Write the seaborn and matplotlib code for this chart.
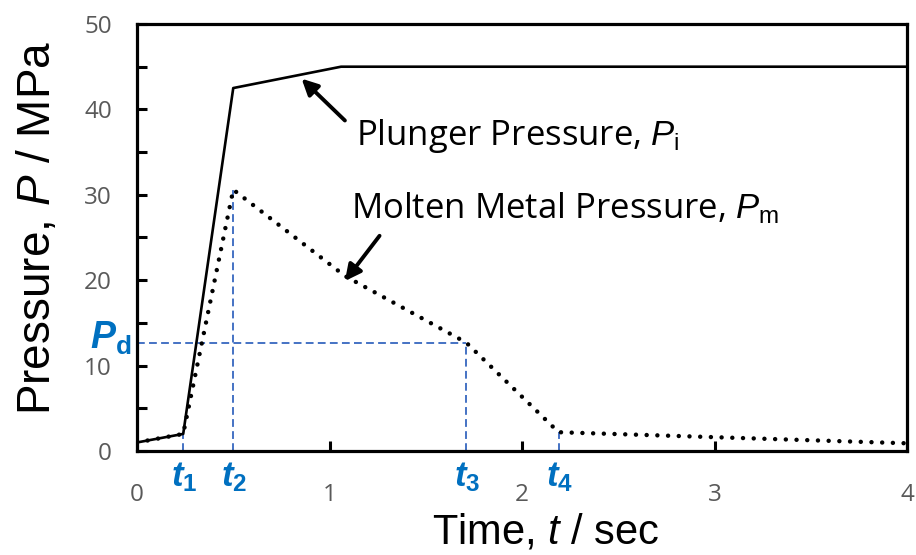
import numpy as np
import pandas as pd
import matplotlib
matplotlib.use("Agg")
import matplotlib.pyplot as plt
from matplotlib.ticker import MultipleLocator, FixedLocator
import seaborn as sns

# Pressure histories during squeeze casting
plunger_t = [0.0, 0.24, 0.50, 1.06, 4.0]
plunger_p = [1.0, 2.0, 42.5, 45.0, 45.0]

metal_t = [0.0, 0.24, 0.50, 1.08, 1.71, 2.19, 4.0]
metal_p = [1.0, 2.0, 30.6, 20.5, 12.7, 2.2, 0.9]

# Characteristic instants and pressure
t_marks = [0.24, 0.50, 1.71, 2.19]
t_mark_p = [2.0, 30.6, 12.7, 2.2]
t_names = ["1", "2", "3", "4"]
p_d = 12.7

x_ticks = [0, 1, 2, 3, 4]
y_ticks = [0, 10, 20, 30, 40, 50]

sns.set_theme(style="white")
plt.rcParams.update({
    "mathtext.fontset": "custom",
    "mathtext.rm": "Liberation Sans",
    "mathtext.it": "Liberation Sans:italic",
    "mathtext.bf": "Liberation Sans:bold",
    "mathtext.bfit": "Liberation Sans:italic:bold",
})
plt.rcParams["font.family"] = ["Open Sans", "DejaVu Sans"]

fig = plt.figure(figsize=(9.16, 5.55), dpi=100)
ax = fig.add_axes([137 / 916, 1 - 451 / 555, 770 / 916, 427 / 555])

blue = "#0070C0"
dash_blue = "#4472C4"

df_pl = pd.DataFrame({"t": plunger_t, "p": plunger_p})
df_mm = pd.DataFrame({"t": metal_t, "p": metal_p})

sns.lineplot(data=df_pl, x="t", y="p", ax=ax, color="black", lw=1.9,
             sort=False, estimator=None, zorder=4)
sns.lineplot(data=df_mm, x="t", y="p", ax=ax, color="black", lw=3.2,
             linestyle=(0, (0.01, 2.4)), dash_capstyle="round",
             sort=False, estimator=None, zorder=5)

# Guide lines to the characteristic instants
guide = dict(color=dash_blue, lw=1.4, ls=(0, (4, 2.2)), zorder=2)
for tm, pm in zip(t_marks, t_mark_p):
    ax.plot([tm, tm], [0, pm], **guide)
ax.plot([0, t_marks[2]], [p_d, p_d], **guide)

ax.set_xlim(0, 4)
ax.set_ylim(0, 50)

ax.xaxis.set_major_locator(FixedLocator(x_ticks))
ax.set_xticklabels([str(v) for v in x_ticks])
ax.yaxis.set_major_locator(FixedLocator(y_ticks))
ax.set_yticklabels([str(v) for v in y_ticks])
ax.yaxis.set_minor_locator(MultipleLocator(5))

ax.tick_params(axis="both", which="both", direction="in", length=7, width=2.2,
               color="black", labelcolor="#595959", labelsize=17.5)
ax.tick_params(axis="y", which="both", left=True, right=False, pad=18)
ax.tick_params(axis="x", which="both", bottom=True, top=False, pad=23)
ax.tick_params(axis="x", which="minor", bottom=False)

for s in ax.spines.values():
    s.set_visible(True)
    s.set_color("black")
    s.set_linewidth(2.3)

ax.set_xlabel(r"Time, $\mathit{t}$ / sec", fontsize=30, family="Liberation Sans",
              color="black")
ax.set_ylabel(r"Pressure, $\mathit{P}$ / MPa", fontsize=33, family="Liberation Sans",
              color="black")
ax.xaxis.set_label_coords(0.531, -0.145)
ax.yaxis.set_label_coords(-0.10, 0.522)

# Instant labels below the axis
for tm, nm in zip(t_marks, t_names):
    ax.annotate(r"$\mathbfit{t}_{\mathbf{" + nm + "}}$", xy=(tm, 0),
                xycoords=("data", "axes fraction"), xytext=(1, -7),
                textcoords="offset points", ha="center", va="top",
                fontsize=25, color=blue)

ax.annotate(r"$\mathbfit{P}_{\mathbf{d}}$", xy=(0, p_d),
            xycoords=("axes fraction", "data"), xytext=(-4, 3),
            textcoords="offset points", ha="right", va="center",
            fontsize=27, color=blue, annotation_clip=False)

arrow_kw = dict(arrowstyle="-|>", color="black", lw=2.8, mutation_scale=24,
                shrinkA=0, shrinkB=0)
ax.annotate("", xy=(0.855, 43.6), xytext=(1.08, 38.7), arrowprops=arrow_kw)
ax.annotate("", xy=(1.08, 19.9), xytext=(1.26, 25.2), arrowprops=arrow_kw)

ax.text(1.14, 36.9, r"Plunger Pressure, $\mathit{P}_\mathrm{i}$", fontsize=25,
        ha="left", va="center", color="black")
ax.text(1.11, 28.4, r"Molten Metal Pressure, $\mathit{P}_\mathrm{m}$", fontsize=25,
        ha="left", va="center", color="black")

fig.savefig("out.png", dpi=100)
